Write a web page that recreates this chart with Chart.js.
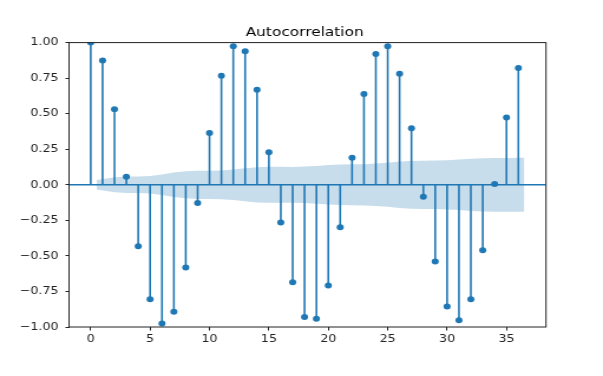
<!DOCTYPE html>
<html>
<head>
<meta charset="utf-8">
<script src="https://cdn.jsdelivr.net/npm/chart.js@4.4.1/dist/chart.umd.min.js"></script>
<style>
    html, body { margin: 0; padding: 0; background: #fff; overflow: hidden; }
    /* the reference is stretched sideways, so draw narrow and widen it */
    #wrap { width: 511px; height: 376px; transform: scaleX(1.18); transform-origin: 0 0; }
</style>
</head>
<body>
<div id="wrap"><canvas id="acfChart" width="511" height="376"></canvas></div>
<script>
// lags and autocorrelation values
const lags = [0, 1, 2, 3, 4, 5, 6, 7, 8, 9, 10, 11, 12, 13, 14, 15, 16, 17, 18,
              19, 20, 21, 22, 23, 24, 25, 26, 27, 28, 29, 30, 31, 32, 33, 34, 35, 36];
const acfValues = [1.0, 0.875, 0.532, 0.057, -0.432, -0.805, -0.975, -0.892, -0.582, -0.128,
                   0.365, 0.767, 0.974, 0.939, 0.669, 0.229, -0.265, -0.685, -0.930, -0.942,
                   -0.709, -0.298, 0.191, 0.638, 0.920, 0.974, 0.781, 0.398, -0.084, -0.540,
                   -0.855, -0.953, -0.805, -0.460, 0.006, 0.473, 0.821];

// confidence band (half width around zero)
const bandX = [0.5, 2, 3, 4, 5, 6, 7, 8, 9, 10, 11, 12, 13, 14, 15, 16, 17, 18,
               19, 20, 21, 22, 23, 24, 25, 26, 27, 28, 29, 30, 31, 32, 33, 34, 35, 36.5];
const bandHalf = [0.033, 0.053, 0.058, 0.058, 0.062, 0.072, 0.086, 0.095, 0.099, 0.099,
                  0.101, 0.107, 0.116, 0.124, 0.127, 0.127, 0.126, 0.128, 0.133, 0.139,
                  0.142, 0.144, 0.145, 0.149, 0.155, 0.163, 0.168, 0.170, 0.171, 0.173,
                  0.178, 0.184, 0.187, 0.189, 0.189, 0.190];

const xTicks = [0, 5, 10, 15, 20, 25, 30, 35];
const yTicks = [-1, -0.75, -0.5, -0.25, 0, 0.25, 0.5, 0.75, 1];
const xRange = [-1.825, 38.325];

const blue = "#1f77b4";
const axisColor = "#222";
const font = "DejaVu Sans";

// each stem goes 0 -> value, a null point breaks the line between stems
const stemPoints = [];
lags.forEach((l, i) => {
    stemPoints.push({ x: l, y: 0 }, { x: l, y: acfValues[i] }, { x: l, y: null });
});

// black box round the plot, like matplotlib spines
const frame = {
    id: "frame",
    afterDraw(chart) {
        const a = chart.chartArea;
        const ctx = chart.ctx;
        ctx.save();
        ctx.strokeStyle = axisColor;
        ctx.lineWidth = 1;
        ctx.strokeRect(a.left, a.top, a.right - a.left, a.bottom - a.top);
        ctx.restore();
    }
};

new Chart(document.getElementById("acfChart"), {
    type: "line",
    data: {
        datasets: [
            {
                type: "scatter",
                data: lags.map((l, i) => ({ x: l, y: acfValues[i] })),
                pointRadius: 3,
                pointHoverRadius: 3,
                pointBackgroundColor: blue,
                pointBorderWidth: 0,
                order: 0
            },
            {
                data: stemPoints,
                borderColor: blue,
                borderWidth: 1.6,
                pointRadius: 0,
                spanGaps: false,
                order: 1
            },
            {
                data: xRange.map(x => ({ x: x, y: 0 })),
                borderColor: blue,
                borderWidth: 1.5,
                pointRadius: 0,
                order: 2
            },
            {
                data: bandX.map((x, i) => ({ x: x, y: bandHalf[i] })),
                borderWidth: 0,
                pointRadius: 0,
                backgroundColor: "rgba(31, 119, 180, 0.25)",
                fill: "+1",
                order: 3
            },
            {
                data: bandX.map((x, i) => ({ x: x, y: -bandHalf[i] })),
                borderWidth: 0,
                pointRadius: 0,
                order: 4
            }
        ]
    },
    options: {
        responsive: false,
        animation: false,
        devicePixelRatio: 1,
        layout: { padding: { left: 5.4, right: 0, top: 0, bottom: 0 } },
        plugins: {
            legend: { display: false },
            tooltip: { enabled: false },
            title: {
                display: true,
                text: "Autocorrelation",
                color: "#000",
                font: { family: font, size: 13, weight: "normal" },
                padding: { top: 25, bottom: 2 }
            }
        },
        scales: {
            x: {
                type: "linear",
                min: xRange[0],
                max: xRange[1],
                offset: false,
                afterBuildTicks: axis => { axis.ticks = xTicks.map(v => ({ value: v })); },
                afterFit: axis => { axis.height = 49; },
                ticks: {
                    color: axisColor,
                    font: { family: font, size: 10.7 },
                    padding: 2,
                    maxRotation: 0
                },
                grid: { drawOnChartArea: false, tickLength: 3.5, color: axisColor },
                border: { display: false }
            },
            y: {
                min: -1,
                max: 1,
                afterBuildTicks: axis => { axis.ticks = yTicks.map(v => ({ value: v })); },
                afterFit: axis => { axis.width = 53.1; },
                ticks: {
                    color: axisColor,
                    font: { family: font, size: 10.7 },
                    padding: 6,
                    callback: v => (v < 0 ? "\u2212" : "") + Math.abs(v).toFixed(2)
                },
                grid: { drawOnChartArea: false, tickLength: 3, color: axisColor },
                border: { display: false }
            },
            // empty right-hand margin
            y2: {
                position: "right",
                afterFit: axis => { axis.width = 48.3; },
                ticks: { display: false },
                grid: { display: false },
                border: { display: false }
            }
        }
    },
    plugins: [frame]
});
</script>
</body>
</html>
